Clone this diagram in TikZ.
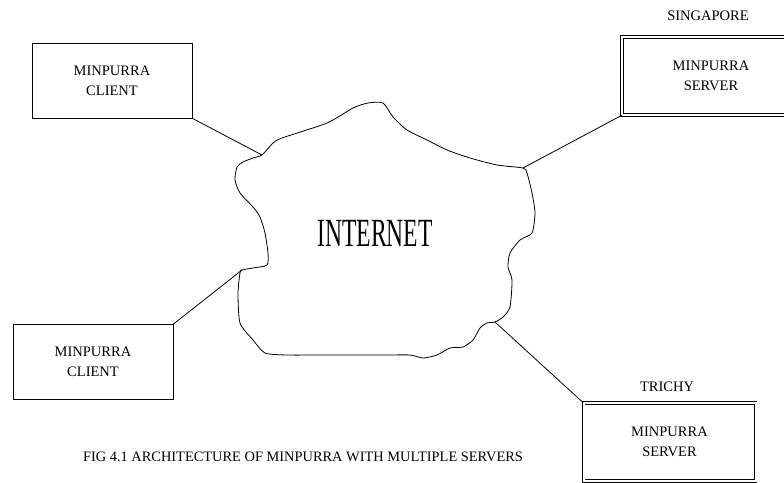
\documentclass[tikz,border=0pt]{standalone}
\usepackage{fontspec}
\setmainfont{Liberation Serif}
\usepackage{tikz}

\begin{document}
\begin{tikzpicture}[x=1pt,y=-1pt]
\tikzset{client/.style={draw,line width=0.8pt,minimum width=160pt,minimum height=75pt,align=center,font=\fontsize{14.5}{20}\selectfont},
server/.style={draw,double,double distance=2pt,line width=0.7pt,minimum width=172pt,minimum height=78pt,align=center,font=\fontsize{14.5}{20}\selectfont},
place/.style={font=\fontsize{14.5}{17}\selectfont}}
\useasboundingbox (0,0) rectangle (784,482);

\path (112,80.5) node[client] (c1) {MINPURRA\\CLIENT};
\path (93,362) node[client] (c2) {MINPURRA\\CLIENT};
\path (711,76) node[server,minimum width=178pt] (s1) {MINPURRA\\SERVER};
\path (669.5,442) node[server] (s2) {MINPURRA\\SERVER};
\path (708,16) node[place] (sg) {SINGAPORE};
\path (667,387) node[place] (tr) {TRICHY};

% cloud
\coordinate (jtl) at (262,155);
\coordinate (jtr) at (523,168);
\coordinate (jbr) at (495,322);
\coordinate (jbl) at (242,270);
\draw[line width=0.8pt] plot[smooth cycle,tension=0.4] coordinates {
(262,155) (273,143) (282,138) (327,123) (353,108) (368,103) (383,103)
(393,117) (407,130) (427,140) (447,150) (470,158) (497,165) (523,168)
(527,173) (532,193) (535,213) (532,233) (520,240) (510,253) (508,267)
(512,280) (510,307) (503,317) (495,322) (487,323) (480,328) (473,340)
(463,347) (450,348) (437,355) (423,358) (410,355) (387,355) (353,355)
(320,355) (287,355) (265,353) (253,340) (240,323) (238,293) (240,273)
(242,270) (253,268) (267,265) (268,253) (265,233) (260,217) (253,207)
(240,193) (235,180) (237,167) (243,162) (253,158)};
\path (375,233) node (net) {\scalebox{0.59}[1]{\fontsize{40}{40}\selectfont INTERNET}};

\draw[line width=0.8pt] (c1.south east) -- (jtl);
\draw[line width=0.8pt] (s1.south west) -- (jtr);
\draw[line width=0.8pt] (c2.north east) -- (jbl);
\draw[line width=0.8pt] (s2.north west) -- (jbr);

\path (303,457) node[font=\fontsize{14.4}{17}\selectfont] (cap) {FIG 4.1 ARCHITECTURE OF MINPURRA WITH MULTIPLE SERVERS};
\end{tikzpicture}
\end{document}
